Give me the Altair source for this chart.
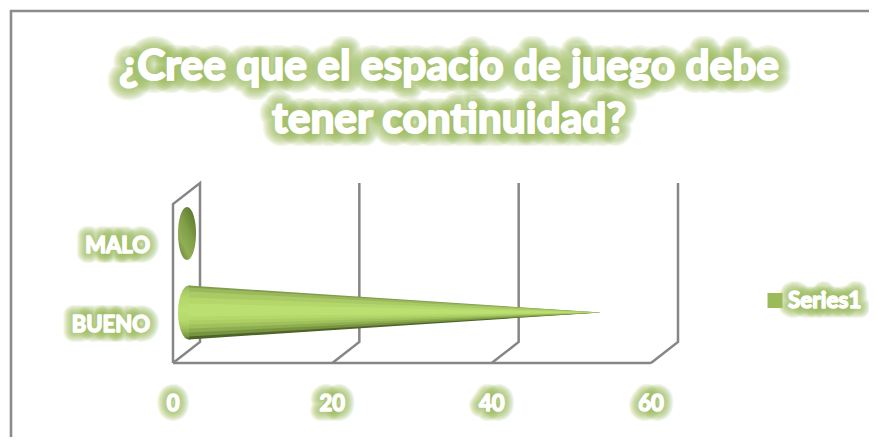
import altair as alt
import pandas as pd

categories = ["BUENO", "MALO"]
values = [52, 0]
series_name = "Series1"
x_ticks = [0, 20, 40, 60]
title_lines = ["¿Cree que el espacio de juego debe", "tener continuidad?"]

GLOW = "#9bbb59"
GRID = "#868686"
FRAME = "#8c8c8c"
FONT = "Lato"

top_edges = [-27, -25, -21, -15]
top_colors = ["#809d4c", "#9ab85c", "#a9ca65", "#b4d66b"]
bottom_edges = [27, 24, 20, 16, 12, 8]
bottom_colors = ["#4e6328", "#779541", "#8dad50", "#9fc05b", "#acce64", "#b5d86b"]
highlight_edge = -3
highlight_color = "#bbdf70"

PX_PER_X = 478 / 60
PX_PER_Y = 79
DEPTH = 27 / PX_PER_X
CONE_DEPTH = 13.5 / PX_PER_X
BASE_X = 16 / PX_PER_X
Y_FRONT_FLOOR = -50.5 / PX_PER_Y
Y_BACK_FLOOR = -29.5 / PX_PER_Y
Y_BACK_TOP = 129.5 / PX_PER_Y
Y_FRONT_TOP = 108.5 / PX_PER_Y

x_scale = alt.Scale(domain=[0, 60], range=[165, 643], nice=False, zero=False)
y_scale = alt.Scale(domain=[0, 1], range=[304.5, 225.5], nice=False, zero=False)
X = lambda f: alt.X(f, type="quantitative", scale=x_scale, axis=None)
Y = lambda f: alt.Y(f, type="quantitative", scale=y_scale, axis=None)

layers = []

# frame
layers.append(alt.Chart(pd.DataFrame({"a": [0]})).mark_rule(color=FRAME, strokeWidth=2.6).encode(
    x=alt.value(3), y=alt.value(2), y2=alt.value(437)))
layers.append(alt.Chart(pd.DataFrame({"a": [0]})).mark_rule(color=FRAME, strokeWidth=2.6).encode(
    x=alt.value(2), x2=alt.value(861), y=alt.value(3)))

# walls
rows = []
def add(group, pts):
    for i, (px, py) in enumerate(pts):
        rows.append({"g": group, "i": i, "x": px, "y": py})
add("wall", [(0, Y_FRONT_FLOOR), (0, Y_FRONT_TOP), (DEPTH, Y_BACK_TOP), (DEPTH, Y_BACK_FLOOR), (0, Y_FRONT_FLOOR)])
add("floor", [(x_ticks[0], Y_FRONT_FLOOR), (x_ticks[-1], Y_FRONT_FLOOR)])
for t in x_ticks[1:]:
    add(f"t{t}", [(t + DEPTH, Y_BACK_TOP), (t + DEPTH, Y_BACK_FLOOR), (t, Y_FRONT_FLOOR)])
layers.append(alt.Chart(pd.DataFrame(rows)).mark_line(color=GRID, strokeWidth=2.5, strokeJoin="miter").encode(
    x=X("x"), y=Y("y"), detail="g:N", order="i:Q"))

# base ellipses
def ellipse(a):
    return f"M{-a},0A{a},1,0,1,1,{a},0A{a},1,0,1,1,{-a},0Z"

stops = list(zip(top_edges, top_colors)) + [(highlight_edge, highlight_color)] + \
        list(zip(bottom_edges[::-1], bottom_colors[::-1]))
grad_bueno = alt.Gradient(gradient="linear", x1=0, x2=0, y1=0, y2=1,
                          stops=[alt.GradientStop(offset=(e + 27) / 54, color=c) for e, c in stops])
grad_malo = alt.Gradient(gradient="linear", x1=0.9, x2=0.2, y1=0, y2=1, stops=[
    alt.GradientStop(offset=0, color="#567029"),
    alt.GradientStop(offset=0.45, color="#7f9e46"),
    alt.GradientStop(offset=0.75, color="#90ae55"),
    alt.GradientStop(offset=1, color="#6d8939")])

layers.append(alt.Chart(pd.DataFrame({"x": [BASE_X], "y": [categories.index("BUENO")]})).mark_point(
    shape=ellipse(round(11 / 27, 3)), size=54 ** 2, filled=True, fill=grad_bueno, opacity=1, strokeWidth=0
).encode(x=X("x"), y=Y("y")))
layers.append(alt.Chart(pd.DataFrame({"x": [14 / PX_PER_X], "y": [categories.index("MALO")]})).mark_point(
    shape=ellipse(round(9 / 26.5, 3)), size=53 ** 2, filled=True, fill=grad_malo, opacity=1, strokeWidth=0
).encode(x=X("x"), y=Y("y")))

# cone bands, drawn outermost first toward the highlight line
tip = values[0] + CONE_DEPTH
yc = categories.index("BUENO")
for edge, col in list(zip(top_edges, top_colors)) + list(zip(bottom_edges, bottom_colors)):
    df = pd.DataFrame({
        "x": [BASE_X, tip],
        "y": [yc - edge / PX_PER_Y, yc],
        "y2": [yc - highlight_edge / PX_PER_Y, yc],
    })
    layers.append(alt.Chart(df).mark_area(color=col, orient="vertical", opacity=1).encode(
        x=X("x"), y=Y("y"), y2="y2:Q"))
# highlight core
df = pd.DataFrame({"x": [BASE_X, tip],
                   "y": [yc + 9 / PX_PER_Y, yc],
                   "y2": [yc - 4 / PX_PER_Y, yc]})
layers.append(alt.Chart(df).mark_area(color=highlight_color, orient="vertical", opacity=1).encode(
    x=X("x"), y=Y("y"), y2="y2:Q"))

# legend swatch
layers.append(alt.Chart(pd.DataFrame({"a": [series_name]})).mark_square(size=225, color=GLOW, opacity=1).encode(
    x=alt.value(767), y=alt.value(292.5)))


def glow_text(df, enc, size, glow, align="center", body=1.6):
    out = []
    n = 10
    for k in range(n):
        w = glow * (n - k) / n
        out.append(alt.Chart(df).mark_text(
            font=FONT, fontSize=size, fontWeight="bold", align=align, baseline="alphabetic",
            stroke=GLOW, strokeWidth=w, strokeOpacity=0.15, strokeJoin="round", fill=GLOW, fillOpacity=0.15
        ).encode(**enc))
    out.append(alt.Chart(df).mark_text(
        font=FONT, fontSize=size, fontWeight="bold", align=align, baseline="alphabetic",
        stroke="white", strokeWidth=body, strokeJoin="round", fill="white"
    ).encode(**enc))
    return out


# title
for line, base in zip(title_lines, [72, 125]):
    layers += glow_text(pd.DataFrame({"t": [line]}),
                        dict(text="t:N", x=alt.value(441), y=alt.value(base)), 42.5, 26, body=2)

# category labels
layers += glow_text(pd.DataFrame({"c": categories, "y": [0, 1]}),
                    dict(text="c:N", x=alt.value(142), y=Y("y"), yOffset=alt.value(19)), 22, 20, align="right")

# tick labels
layers += glow_text(pd.DataFrame({"v": x_ticks}),
                    dict(text="v:Q", x=X("v"), y=alt.value(403)), 22, 20)

# legend label
layers += glow_text(pd.DataFrame({"s": [series_name]}),
                    dict(text="s:N", x=alt.value(780), y=alt.value(300)), 22.5, 20, align="left")

chart = alt.layer(*layers).properties(
    width=861, height=429, padding=0, autosize=alt.AutoSizeParams(type="none"), background="white"
).configure_view(stroke=None)

chart.save("out.html", embed_options={"renderer": "svg", "actions": False})
